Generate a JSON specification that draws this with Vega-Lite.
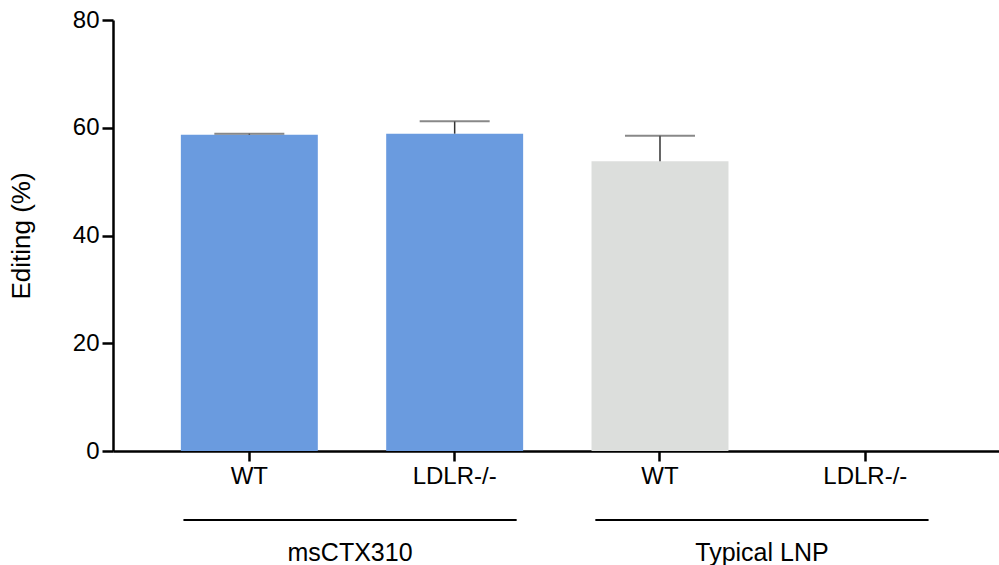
{
  "$schema": "https://vega.github.io/schema/vega-lite/v6.json",
  "width": 886,
  "height": 431,
  "autosize": {"type": "none"},
  "padding": {"left": 113, "top": 20, "right": 0, "bottom": 114},
  "background": "white",
  "config": {
    "view": {"stroke": null},
    "font": "Liberation Sans",
    "axis": {"grid": false, "domainColor": "black", "tickColor": "black", "labelColor": "black", "titleColor": "black", "domainWidth": 2.5, "tickWidth": 2.5, "labelFont": "Liberation Sans", "titleFont": "Liberation Sans", "labelFontSize": 24, "titleFontSize": 26, "titleFontWeight": "normal"}
  },
  "datasets": {
    "bars": [
      {"key": "msCTX310|WT", "group": "msCTX310", "genotype": "WT", "value": 58.7, "upper": 58.9},
      {"key": "msCTX310|LDLR-/-", "group": "msCTX310", "genotype": "LDLR-/-", "value": 58.9, "upper": 61.2},
      {"key": "Typical LNP|WT", "group": "Typical LNP", "genotype": "WT", "value": 53.8, "upper": 58.5},
      {"key": "Typical LNP|LDLR-/-", "group": "Typical LNP", "genotype": "LDLR-/-", "value": 0, "upper": null}
    ],
    "groups": [
      {"group": "msCTX310"},
      {"group": "Typical LNP"}
    ]
  },
  "layer": [
    {
      "data": {"name": "bars"},
      "encoding": {
        "x": {
          "field": "key", "type": "nominal", "sort": null,
          "scale": {"paddingInner": 0.333, "paddingOuter": 0.324, "align": 0.51},
          "axis": {"title": null, "labelAngle": 0, "tickSize": 10, "labelPadding": 3, "labelExpr": "split(datum.label, '|')[1]", "domainCap": "butt"}
        }
      },
      "layer": [
        {
          "mark": {"type": "bar"},
          "encoding": {
            "y": {"field": "value", "type": "quantitative", "title": "Editing (%)",
              "scale": {"domain": [0, 80], "nice": false, "zero": true},
              "axis": {"values": [0, 20, 40, 60, 80], "tickSize": 11, "labelPadding": 3, "titlePadding": 38}},
            "color": {"field": "group", "type": "nominal", "legend": null,
              "scale": {"domain": ["msCTX310", "Typical LNP"], "range": ["#6A9BDF", "#DCDEDC"]}}
          }
        },
        {
          "transform": [{"filter": "datum.upper != null"}],
          "mark": {"type": "rule", "color": "#333", "strokeWidth": 1.5},
          "encoding": {
            "y": {"field": "value", "type": "quantitative", "title": "Editing (%)"},
            "y2": {"field": "upper"}
          }
        },
        {
          "transform": [{"filter": "datum.upper != null"}],
          "mark": {"type": "tick", "color": "#555", "thickness": 2, "size": 70},
          "encoding": {
            "y": {"field": "upper", "type": "quantitative", "title": "Editing (%)"}
          }
        }
      ]
    },
    {
      "data": {"name": "groups"},
      "encoding": {
        "x": {
          "field": "group", "type": "nominal", "sort": null,
          "scale": {"paddingInner": 0.191, "paddingOuter": 0.171},
          "axis": null
        }
      },
      "layer": [
        {
          "mark": {"type": "bar", "color": "black"},
          "encoding": {
            "y": {"datum": -12.6},
            "y2": {"datum": -13.0}
          }
        },
        {
          "mark": {"type": "text", "fontSize": 25, "color": "black", "align": "center", "baseline": "alphabetic", "font": "Liberation Sans"},
          "encoding": {
            "y": {"datum": -20.4},
            "text": {"field": "group"}
          }
        }
      ]
    }
  ],
  "resolve": {"scale": {"x": "independent"}}
}
